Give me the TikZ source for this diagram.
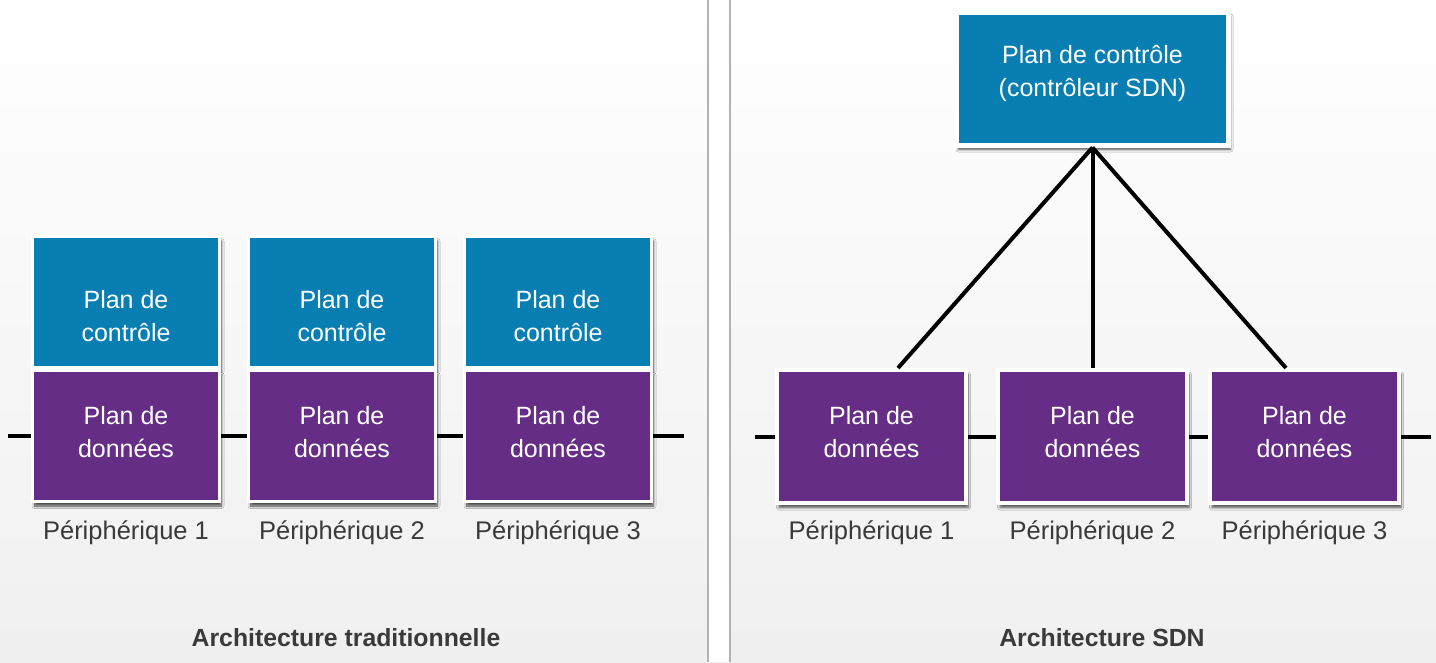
\documentclass[tikz,border=0pt]{standalone}
\usepackage{fontspec}
\setmainfont{Liberation Sans}
\usetikzlibrary{shadows.blur}

\definecolor{ctrlblue}{HTML}{087EB2}
\definecolor{datapurple}{HTML}{652D86}
\definecolor{labelgray}{HTML}{3A3A3A}

\begin{document}
\begin{tikzpicture}[x=1pt,y=-1pt]
	\tikzset{plane/.style={draw=white,line width=3pt,minimum width=187pt,minimum height=131pt,
			blur shadow={shadow xshift=2pt,shadow yshift=-4.5pt,shadow blur radius=2.5pt,
				shadow blur steps=6,shadow opacity=70}},
		ctrl/.style={plane,fill=ctrlblue},
		data/.style={plane,fill=datapurple},
		boxtext/.style={text=white,align=center,font=\fontsize{25}{33}\selectfont},
		dev/.style={text=labelgray,font=\fontsize{25.5}{29}\selectfont},
		arch/.style={text=labelgray,font=\fontsize{24.8}{29}\selectfont\bfseries},
		wire/.style={line width=4pt,black}}

	\useasboundingbox (0,0) rectangle (1436,662);
	\shade[top color=white,bottom color=black!6] (0,0) rectangle (1436,662);
	\fill[white] (708,0) rectangle (730,662);
	\draw[black!30,line width=2pt] (708,0) -- (708,662);
	\draw[black!30,line width=2pt] (730,0) -- (730,662);

	% traditionnelle
	\foreach \i/\x in {1/126,2/342,3/558} {
	    \node[ctrl] (c\i) at (\x,302) {};
	    \node[boxtext] (ct\i) at (\x,316) {Plan de\\contrôle};
	    \node[data] (d\i) at (\x,436) {};
	    \node[boxtext] (dt\i) at (\x,432.5) {Plan de\\données};
	    \node[dev] (p\i) at (\x,533) {Périphérique \i};
	}
	\coordinate (wl) at (8,436);
	\coordinate (wm) at (684,436);
	\draw[wire] (wl) -- (d1.west);
	\draw[wire] (d1.east) -- (d2.west);
	\draw[wire] (d2.east) -- (d3.west);
	\draw[wire] (d3.east) -- (wm);
	\node[arch] (a1) at (346,638) {Architecture traditionnelle};

	% SDN
	\node[ctrl,line width=5pt,minimum width=272pt,minimum height=133pt] (sdn) at (1092.5,78.5) {};
	\node[boxtext] (sdnt) at (1092.5,73) {Plan de contrôle\\(contrôleur SDN)};
	\foreach \i/\x in {1/871.5,2/1092.5,3/1304.5} {
	    \node[data,line width=4pt,minimum width=189pt,minimum height=133pt] (e\i) at (\x,436.5) {};
	    \node[boxtext] (et\i) at (\x,432.5) {Plan de\\données};
	    \node[dev] (q\i) at (\x,533) {Périphérique \i};
	}
	\draw[wire] (sdn.south) -- ([xshift=26.5pt]e1.north);
	\draw[wire] (sdn.south) -- (e2.north);
	\draw[wire] (sdn.south) -- ([xshift=-18.5pt]e3.north);
	\coordinate (wn) at (755,436.5);
	\coordinate (wr) at (1431,436.5);
	\draw[wire] (wn) -- (e1.west);
	\draw[wire] (e1.east) -- (e2.west);
	\draw[wire] (e2.east) -- (e3.west);
	\draw[wire] (e3.east) -- (wr);
	\node[arch] (a2) at (1102,638) {Architecture SDN};
\end{tikzpicture}
\end{document}
